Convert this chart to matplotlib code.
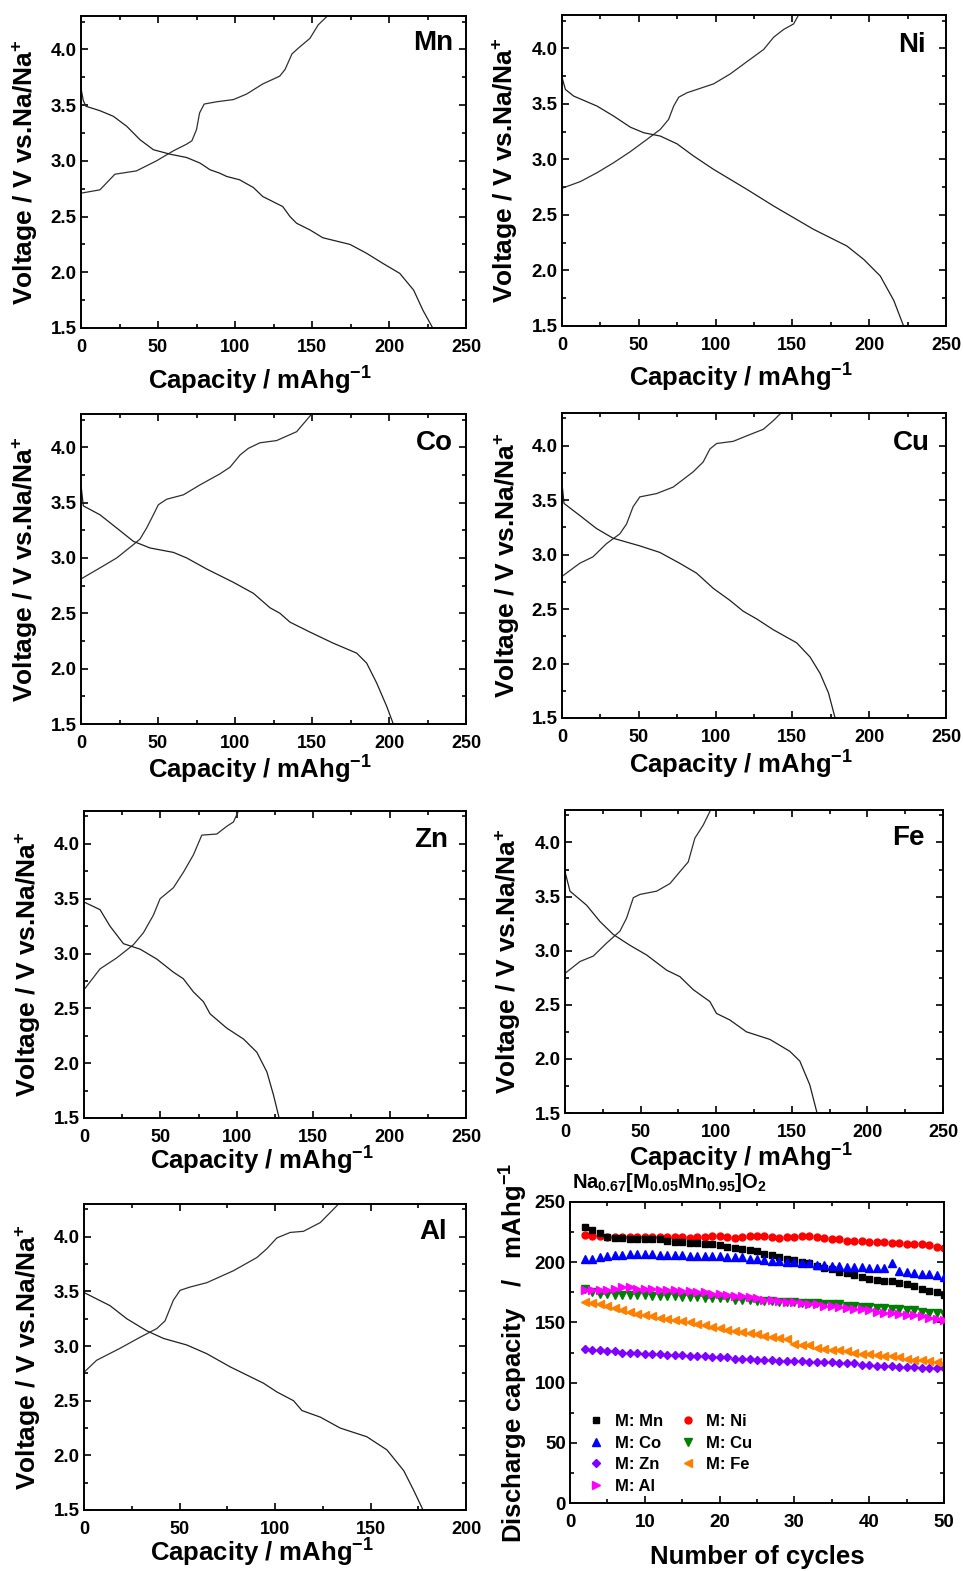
import numpy as np
import matplotlib.pyplot as plt
from matplotlib.ticker import MultipleLocator

plt.rcParams['font.family'] = ['Liberation Sans', 'DejaVu Sans']
plt.rcParams['font.weight'] = 'bold'
plt.rcParams['axes.labelweight'] = 'bold'
plt.rcParams['mathtext.fontset'] = 'custom'
plt.rcParams['mathtext.rm'] = 'Liberation Sans:bold'
plt.rcParams['mathtext.it'] = 'Liberation Sans:bold'
plt.rcParams['mathtext.bf'] = 'Liberation Sans:bold'

W, H = 963, 1571

# first-cycle charge / discharge profiles, capacity in mAh/g and voltage in V
mn_chg_q = [0, 12.3, 22, 36, 49, 60, 68.6, 72, 75, 77, 80, 88, 99, 107.6, 118, 129, 132.5, 137, 141, 148.7, 154, 160]
mn_chg_v = [2.71, 2.74, 2.88, 2.91, 3.00, 3.09, 3.15, 3.18, 3.28, 3.43, 3.51, 3.53, 3.55, 3.60, 3.69, 3.76, 3.82, 3.96, 4.01, 4.10, 4.22, 4.30]
mn_dis_q = [0, 1.5, 3.2, 12.3, 21, 29.7, 38.3, 47, 57.8, 68.6, 77.3, 83.8, 90, 94.6, 103, 112, 118, 131, 135.7, 140, 148.7, 157, 174.7, 185.5, 196, 207, 216, 222, 228.4]
mn_dis_v = [3.65, 3.54, 3.49, 3.45, 3.40, 3.31, 3.19, 3.10, 3.06, 3.03, 2.98, 2.92, 2.89, 2.86, 2.83, 2.76, 2.68, 2.59, 2.50, 2.44, 2.38, 2.31, 2.25, 2.17, 2.08, 1.99, 1.84, 1.66, 1.50]

ni_chg_q = [0, 11.9, 22.8, 33.6, 44.5, 55.3, 64, 69.4, 72.7, 76, 81.4, 98.7, 109.6, 120.4, 131.3, 137.8, 144.3, 150.8, 154]
ni_chg_v = [2.74, 2.80, 2.88, 2.97, 3.07, 3.18, 3.27, 3.36, 3.48, 3.56, 3.60, 3.68, 3.77, 3.88, 3.99, 4.10, 4.17, 4.22, 4.30]
ni_dis_q = [0, 2.2, 7.6, 22.8, 33.6, 44.5, 53.2, 64, 74.9, 85.7, 98.7, 120.4, 137.8, 163.8, 185.5, 196.4, 207.2, 216, 222.4]
ni_dis_v = [3.74, 3.63, 3.57, 3.48, 3.39, 3.29, 3.24, 3.21, 3.14, 3.03, 2.91, 2.73, 2.58, 2.37, 2.22, 2.10, 1.95, 1.73, 1.50]

co_chg_q = [0, 12.3, 23.2, 34, 38.3, 42.6, 47, 50.2, 55.6, 66.5, 77.3, 90.3, 96.8, 103.3, 108.7, 116.2, 127, 140, 149.8]
co_chg_v = [2.81, 2.91, 3.00, 3.12, 3.17, 3.27, 3.39, 3.48, 3.53, 3.57, 3.66, 3.76, 3.82, 3.93, 3.99, 4.04, 4.06, 4.14, 4.30]
co_dis_q = [0, 1.5, 12.3, 23.2, 34, 44.8, 60, 68.6, 81.6, 98.9, 112, 122.7, 129.2, 135.7, 148.7, 163.8, 179, 185.5, 192, 198.5, 202.8]
co_dis_v = [3.66, 3.47, 3.39, 3.27, 3.15, 3.09, 3.05, 3.00, 2.90, 2.78, 2.68, 2.55, 2.50, 2.42, 2.33, 2.23, 2.14, 2.05, 1.87, 1.66, 1.50]

cu_chg_q = [0, 11.5, 20.2, 28.9, 37.6, 42, 46.3, 50.7, 61.5, 72.4, 85.4, 91.9, 96.3, 100.7, 111.5, 120.2, 131, 137.6, 142.6]
cu_chg_v = [2.80, 2.92, 2.98, 3.10, 3.19, 3.28, 3.44, 3.53, 3.56, 3.62, 3.76, 3.85, 3.97, 4.02, 4.04, 4.09, 4.15, 4.23, 4.30]
cu_dis_q = [0.4, 1.3, 11.5, 22.4, 33.3, 50.7, 63.7, 76.7, 87.6, 98.5, 109.3, 118, 126.7, 137.6, 152.8, 161.5, 168, 173.5, 177.8]
cu_dis_v = [3.60, 3.47, 3.36, 3.24, 3.15, 3.08, 3.02, 2.92, 2.83, 2.69, 2.58, 2.48, 2.41, 2.31, 2.19, 2.06, 1.91, 1.73, 1.50]

zn_chg_q = [0, 10.5, 21.4, 32.3, 38.9, 45.4, 49.8, 58.5, 65, 71.6, 77.1, 86.9, 93.4, 97.8, 101.1]
zn_chg_v = [2.67, 2.86, 2.96, 3.08, 3.19, 3.35, 3.50, 3.60, 3.74, 3.90, 4.08, 4.09, 4.16, 4.20, 4.30]
zn_dis_q = [0, 10.5, 17, 25.8, 36.7, 47.6, 58.5, 65, 71.6, 78.2, 82.5, 93.4, 104.4, 113.1, 119.7, 124, 127.7]
zn_dis_v = [3.47, 3.40, 3.25, 3.09, 3.04, 2.95, 2.83, 2.77, 2.65, 2.56, 2.45, 2.32, 2.22, 2.10, 1.92, 1.71, 1.50]

fe_chg_q = [0, 9.9, 18.7, 27.5, 36.3, 40.7, 45.2, 49.6, 60.6, 69.4, 76, 81.5, 85.9, 91.4, 96.3]
fe_chg_v = [2.79, 2.90, 2.95, 3.07, 3.18, 3.30, 3.49, 3.52, 3.55, 3.62, 3.73, 3.82, 4.04, 4.16, 4.30]
fe_dis_q = [0, 3.3, 14.3, 23.1, 31.9, 42.9, 54, 67.2, 76, 84.8, 95.8, 100.2, 109, 120, 135.5, 148.7, 155.3, 161.9, 166.7]
fe_dis_v = [3.73, 3.55, 3.42, 3.27, 3.15, 3.05, 2.96, 2.82, 2.76, 2.64, 2.53, 2.42, 2.36, 2.25, 2.18, 2.07, 1.98, 1.76, 1.50]

al_chg_q = [0, 6.6, 18.9, 29.3, 38.1, 42.4, 46.8, 50.3, 55.5, 64.3, 78.3, 90.5, 95.7, 101, 108, 114.9, 123.7, 133.3]
al_chg_v = [2.76, 2.87, 2.98, 3.08, 3.16, 3.23, 3.42, 3.51, 3.54, 3.58, 3.69, 3.81, 3.89, 3.99, 4.04, 4.05, 4.13, 4.30]
al_dis_q = [0, 13.6, 22.4, 32.8, 41.6, 53.8, 64.3, 76.5, 83.5, 94, 101, 109.7, 114.1, 123.7, 134.1, 148.1, 158.6, 167.4, 172.6, 177.5]
al_dis_v = [3.49, 3.37, 3.25, 3.14, 3.07, 3.01, 2.93, 2.81, 2.75, 2.66, 2.58, 2.50, 2.41, 2.35, 2.25, 2.17, 2.05, 1.86, 1.68, 1.50]

# discharge capacity (mAh/g) for cycles 2..50
cycles = np.arange(2, 51)
cap_mn = [229, 227, 224, 221, 220, 220, 219, 219, 219, 219, 219, 218, 217, 217, 216, 216, 215, 215, 214, 213,
          212, 211, 210, 209, 207, 206, 204, 203, 202, 200, 199, 197, 195, 194, 192, 191, 189, 188, 186, 185,
          184, 184, 183, 182, 180, 178, 176, 175, 173]
cap_ni = [223, 222, 222, 221, 221, 221, 221, 221, 221, 221, 221, 221, 221, 221, 220, 221, 221, 222, 222, 221,
          220, 221, 222, 222, 222, 221, 220, 221, 221, 222, 222, 221, 220, 219, 219, 218, 218, 218, 217, 217,
          217, 216, 216, 215, 215, 215, 214, 213, 212]
cap_co = [203, 203, 204, 205, 206, 206, 207, 207, 207, 207, 206, 206, 206, 206, 205, 205, 205, 205, 205, 204,
          204, 204, 203, 203, 202, 201, 201, 200, 200, 199, 199, 198, 198, 197, 197, 196, 196, 196, 195, 195,
          195, 199, 193, 192, 191, 190, 190, 189, 188]
cap_cu = [178, 175, 174, 174, 173, 173, 173, 173, 173, 172, 172, 172, 172, 171, 171, 171, 170, 170, 170, 170,
          169, 169, 169, 168, 168, 168, 167, 167, 167, 166, 166, 166, 165, 165, 165, 164, 164, 163, 163, 162,
          162, 161, 161, 160, 160, 159, 158, 158, 157]
cap_zn = [128, 127, 127, 126, 126, 125, 125, 125, 124, 124, 124, 123, 123, 123, 122, 122, 122, 121, 121, 121,
          120, 120, 120, 119, 119, 119, 118, 118, 118, 118, 117, 117, 117, 117, 116, 116, 116, 115, 115, 114,
          114, 114, 113, 113, 113, 112, 112, 112, 112]
cap_fe = [167, 166, 165, 164, 162, 160, 159, 157, 156, 155, 154, 153, 152, 151, 150, 149, 148, 146, 145, 144,
          143, 142, 141, 140, 139, 138, 137, 136, 132, 131, 131, 129, 128, 127, 127, 126, 125, 124, 124, 123,
          122, 122, 121, 120, 119, 119, 118, 117, 116]
cap_al = [177, 177, 177, 177, 178, 179, 179, 178, 178, 178, 177, 177, 177, 176, 176, 175, 175, 174, 174, 173,
          172, 172, 171, 170, 169, 169, 168, 167, 167, 166, 165, 165, 164, 164, 163, 162, 161, 161, 160, 159,
          158, 158, 157, 156, 156, 155, 154, 153, 152]

fig = plt.figure(figsize=(W / 100, H / 100), dpi=100)


def px_axes(x0, y0, x1, y1):
    return fig.add_axes([x0 / W, 1 - y1 / H, (x1 - x0) / W, (y1 - y0) / H])


def style_axes(ax, xmaj, xmin, ymaj, ymin, xsize, ysize):
    ax.xaxis.set_major_locator(MultipleLocator(xmaj))
    ax.xaxis.set_minor_locator(MultipleLocator(xmin))
    ax.yaxis.set_major_locator(MultipleLocator(ymaj))
    ax.yaxis.set_minor_locator(MultipleLocator(ymin))
    ax.tick_params(which='both', direction='in', top=True, right=True, width=1.2)
    ax.tick_params(which='major', length=5)
    ax.tick_params(which='minor', length=3)
    ax.tick_params(axis='x', pad=8, labelsize=xsize)
    ax.tick_params(axis='y', pad=3, labelsize=ysize)
    for sp in ax.spines.values():
        sp.set_linewidth(1.4)


def profile(box, name, chg, dis, xmax, ylab_x, xlab_y, tag_dx, tag_dy):
    x0, y0, x1, y1 = box
    ax = px_axes(*box)
    ax.plot(chg[0], chg[1], color='#303030', lw=0.9, solid_joinstyle='round')
    ax.plot(dis[0], dis[1], color='#202020', lw=0.9, solid_joinstyle='round')
    ax.set_xlim(0, xmax)
    ax.set_ylim(1.5, 4.3)
    style_axes(ax, 50, 25, 0.5, 0.25, 13, 13.5)
    ax.set_ylabel('Voltage / V vs.Na/Na$^{+}$', fontsize=19, va='center')
    ax.yaxis.set_label_coords((ylab_x - x0) / (x1 - x0), 0.5)
    ax.set_xlabel('Capacity / mAhg$^{-1}$', fontsize=18.5, va='center')
    ax.xaxis.set_label_coords(0.5 - 13 / (x1 - x0), (y1 - xlab_y) / (y1 - y0))
    ax.annotate(name, xy=(1, 1), xycoords='axes fraction', xytext=(-tag_dx, -tag_dy),
                textcoords='offset pixels', ha='right', va='center', fontsize=20)
    return ax


profile((81, 16, 466, 328), 'Mn', (mn_chg_q, mn_chg_v), (mn_dis_q, mn_dis_v), 250, 25, 381, 13, 27)
profile((562, 15, 946, 326), 'Ni', (ni_chg_q, ni_chg_v), (ni_dis_q, ni_dis_v), 250, 505, 378, 20, 30)
profile((81, 414, 466, 724), 'Co', (co_chg_q, co_chg_v), (co_dis_q, co_dis_v), 250, 25, 770, 13, 29)
profile((562, 413, 946, 718), 'Cu', (cu_chg_q, cu_chg_v), (cu_dis_q, cu_dis_v), 250, 507, 765, 16, 30)
profile((84, 811, 466, 1118), 'Zn', (zn_chg_q, zn_chg_v), (zn_dis_q, zn_dis_v), 250, 28, 1161, 18, 29)
profile((565, 810, 943, 1113), 'Fe', (fe_chg_q, fe_chg_v), (fe_dis_q, fe_dis_v), 250, 508, 1158, 18, 28)
profile((84, 1204, 466, 1510), 'Al', (al_chg_q, al_chg_v), (al_dis_q, al_dis_v), 200, 28, 1553, 19, 28)

# cycling performance
box = (570, 1202, 944, 1503)
ax = px_axes(*box)
series = [
    ('M: Mn', cap_mn, 's', 'black', 4.5),
    ('M: Co', cap_co, '^', 'blue', 5.5),
    ('M: Zn', cap_zn, 'D', '#8000ff', 4.5),
    ('M: Al', cap_al, '>', '#ff00ff', 5.5),
    ('M: Ni', cap_ni, 'o', 'red', 5),
    ('M: Cu', cap_cu, 'v', 'green', 5.5),
    ('M: Fe', cap_fe, '<', '#ff8000', 5.5),
]
zorders = {'M: Ni': 2, 'M: Mn': 3, 'M: Co': 4, 'M: Cu': 2, 'M: Al': 3, 'M: Fe': 2, 'M: Zn': 2}
for label, vals, mk, col, ms in series:
    ax.plot(cycles, vals, ls='none', marker=mk, color=col, ms=ms, mec=col, label=label,
            zorder=zorders[label])
ax.set_xlim(0, 50)
ax.set_ylim(0, 250)
style_axes(ax, 10, 5, 50, 25, 13.5, 13.5)
ax.set_ylabel('Discharge capacity   /   mAhg$^{-1}$', fontsize=18.5, va='center')
ax.yaxis.set_label_coords((514 - box[0]) / (box[2] - box[0]), 0.5)
ax.set_xlabel('Number of cycles', fontsize=18.5, va='center')
ax.xaxis.set_label_coords(0.5, (box[3] - 1557) / (box[3] - box[1]))
ax.legend(loc='lower left', bbox_to_anchor=(0.03, 0.008), ncol=2, frameon=False, fontsize=12,
          handlelength=1.0, handletextpad=0.6, columnspacing=1.0, labelspacing=0.4,
          numpoints=1, borderaxespad=0)
fig.text(572 / W, 1 - 1183 / H, r'Na$_{0.67}$[M$_{0.05}$Mn$_{0.95}$]O$_{2}$', fontsize=14.5,
         ha='left', va='center')

fig.savefig('out.png', dpi=100)
